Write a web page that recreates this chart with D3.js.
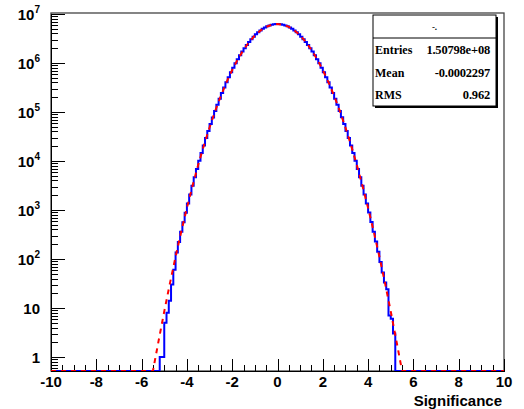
<!DOCTYPE html>
<meta charset="utf-8">
<style type="text/css">
	body { margin: 0; background: #fff; }
	svg { display: block; }
	.tick-label { font-family: "Liberation Sans", Arial, sans-serif; font-weight: bold; font-size: 15px; fill: #000; }
	.stats text { font-family: "Liberation Serif", "Times New Roman", serif; font-weight: bold; fill: #000; }
	.hist { fill: none; stroke: #0000ff; stroke-width: 2; stroke-linejoin: miter; }
	.fit { fill: none; stroke: #ff0000; stroke-width: 2; stroke-dasharray: 5,5; }
	.axis path, .axis line { stroke: #000; shape-rendering: crispEdges; }
</style>
<svg width="524" height="409"></svg>
<script src="https://d3js.org/d3.v7.min.js"></script>
<script type="text/javascript">
	// histogram, 0.1 wide bins, only the non empty range -5.2 .. 5.2
	var binLo = -5.2, binWidth = 0.1;
	var counts = [
		1, 1, 5, 8, 14, 30, 60, 135, 222, 358, 565, 880,
		1360, 2075, 3130, 4670, 6895, 10070, 14540, 20770, 29360, 41050,
		56760, 77670, 105000, 140700, 186300, 244100, 316400, 405700, 514600, 645600,
		801300, 984100, 1195000, 1436000, 1707000, 2008000, 2335000, 2688000, 3059000, 3446000,
		3840000, 4231000, 4613000, 4976000, 5310000, 5604000, 5852000, 6045000, 6177000, 6244000,
		6245000, 6178000, 6046000, 5853000, 5605000, 5311000, 4977000, 4614000, 4232000, 3841000,
		3447000, 3060000, 2689000, 2336000, 2009000, 1708000, 1437000, 1196000, 984200, 801400,
		645700, 514700, 405800, 316500, 244200, 186400, 140800, 105100, 77680, 56770,
		41060, 29370, 20780, 14550, 10080, 6903, 4678, 3136, 2081, 1365,
		886, 569, 361, 227, 141, 87, 53, 33, 24, 7, 6, 3
	];

	var fitX = [-10, -5.75, -5.5, -5.25, -5, -4.75, -4.5, -4.25, -4, -3.75, -3.5, -3.25, -3, -2.75, -2.5, -2.25, -2, -1.75, -1.5, -1.25, -1, -0.75, -0.5, -0.25,
		0, 0.25, 0.5, 0.75, 1, 1.25, 1.5, 1.75, 2, 2.25, 2.5, 2.75, 3, 3.25, 3.5, 3.75, 4, 4.25, 4.5, 4.75, 5, 5.25, 5.5, 5.75, 10];
	var fitY = [0, 0.109, 0.499, 2.13, 8.51, 31.8, 110.8, 361, 1101, 3136, 8351, 20780, 48340, 105110, 213600, 405800, 720300, 1195500, 1854000, 2689000, 3642000, 4614000, 5464000, 6046000,
		6254000, 6046000, 5464000, 4614000, 3642000, 2689000, 1854000, 1195500, 720300, 405800, 213600, 105110, 48340, 20780, 8351, 3136, 1101, 361, 110.8, 31.8, 8.51, 2.13, 0.499, 0.109, 0];

	var xMajor = [-10, -8, -6, -4, -2, 0, 2, 4, 6, 8, 10];
	var xLabels = ["-10", "-8", "-6", "-4", "-2", "0", "2", "4", "6", "8", "10"];
	var yMajor = [1, 10, 100, 1000, 10000, 100000, 1000000, 10000000];
	var yLabelBase = ["1", "10", "10", "10", "10", "10", "10", "10"];
	var yLabelExp = ["", "", "2", "3", "4", "5", "6", "7"];

	var statsTitle = "-.";
	var statsLabels = ["Entries", "Mean", "RMS"];
	var statsValues = ["1.50798e+08", "-0.0002297", "0.962"];
	var xTitle = "Significance";

	var svg = d3.select("svg");
	var padL = 51, padR = 504, padT = 13, padB = 371;
	var yMin = 0.518, yMax = 1.048e7;

	var x = d3.scaleLinear().domain([-10, 10]).range([padL, padR]);
	var y = d3.scaleLog().domain([yMin, yMax]).range([padB, padT]);

	function yc(v) { return y(Math.max(v, yMin)); }

	svg.append("clipPath").attr("id", "clip").append("rect")
		.attr("x", padL).attr("y", padT - 2).attr("width", padR - padL).attr("height", padB - padT + 2);

	// frame
	svg.append("rect").attr("x", padL).attr("y", padT).attr("width", padR - padL).attr("height", padB - padT)
		.attr("fill", "none").attr("stroke", "#444").attr("stroke-width", 1.3);

	// x axis: minor every 0.5, major every 2
	var xMinor = d3.range(-10, 10.01, 0.5).filter(function(v){ return xMajor.indexOf(v) < 0; });
	svg.append("g").attr("class", "axis").attr("transform", "translate(0," + padB + ")")
		.call(d3.axisBottom(x).tickValues(xMinor).tickSize(-6).tickFormat("").tickSizeOuter(0));
	var gx = svg.append("g").attr("class", "axis").attr("transform", "translate(0," + padB + ")")
		.call(d3.axisBottom(x).tickValues(xMajor).tickSize(-12).tickFormat("").tickSizeOuter(0));
	gx.select(".domain").attr("stroke-width", 1.3);

	xMajor.forEach(function(v, i){
		svg.append("text").attr("class", "tick-label")
			.attr("x", x(v)).attr("y", 387).attr("text-anchor", "middle").text(xLabels[i]);
	});
	svg.append("text").attr("class", "tick-label")
		.attr("x", 502).attr("y", 406).attr("text-anchor", "end").text(xTitle);

	// y axis: log, minor at 2..9 of each decade
	var yMinor = [];
	[0.1, 1, 10, 100, 1000, 10000, 100000, 1000000].forEach(function(d){
		for (var k = 2; k <= 9; k++) {
			var v = d * k;
			if (v >= yMin && v <= yMax) yMinor.push(v);
		}
	});
	svg.append("g").attr("class", "axis").attr("transform", "translate(" + padL + ",0)")
		.call(d3.axisLeft(y).tickValues(yMinor).tickSize(-7).tickFormat("").tickSizeOuter(0));
	var gy = svg.append("g").attr("class", "axis").attr("transform", "translate(" + padL + ",0)")
		.call(d3.axisLeft(y).tickValues(yMajor).tickSize(-14).tickFormat("").tickSizeOuter(0));
	gy.select(".domain").attr("stroke-width", 1.3);

	yMajor.forEach(function(v, i){
		var t = svg.append("text").attr("class", "tick-label")
			.attr("x", 40).attr("y", y(v) + 6).attr("text-anchor", "end");
		t.append("tspan").text(yLabelBase[i]);
		if (yLabelExp[i]) {
			t.append("tspan").attr("dy", -7).style("font-size", "10px").text(yLabelExp[i]);
		}
	});

	// histogram as a step line
	var pts = [[x(-10), yc(0)], [x(binLo), yc(0)]];
	counts.forEach(function(c, i){
		var x0 = binLo + i * binWidth, x1 = x0 + binWidth;
		pts.push([x(x0), yc(c)]);
		pts.push([x(x1), yc(c)]);
	});
	pts.push([x(binLo + counts.length * binWidth), yc(0)]);
	pts.push([x(10), yc(0)]);

	var line = d3.line();
	svg.append("path").attr("class", "hist").attr("clip-path", "url(#clip)").attr("d", line(pts));

	// fit curve
	var fitLine = d3.line().x(function(d){ return x(d[0]); }).y(function(d){ return yc(d[1]); });
	svg.append("path").attr("class", "fit").attr("clip-path", "url(#clip)")
		.attr("d", fitLine(fitX.map(function(v, i){ return [v, fitY[i]]; })));

	// stats box
	var sb = svg.append("g").attr("class", "stats");
	var bx = 373, by = 15, bw = 123, bh = 91;
	sb.append("rect").attr("x", bx + 2).attr("y", by + 2).attr("width", bw).attr("height", bh).attr("fill", "#000");
	sb.append("rect").attr("x", bx).attr("y", by).attr("width", bw).attr("height", bh)
		.attr("fill", "#fff").attr("stroke", "#000").attr("stroke-width", 1);
	sb.append("line").attr("x1", bx).attr("x2", bx + bw).attr("y1", 38).attr("y2", 38).attr("stroke", "#000");
	sb.append("text").attr("x", bx + bw / 2).attr("y", 30).attr("text-anchor", "middle")
		.style("font-size", "9px").text(statsTitle);
	statsLabels.forEach(function(l, i){
		var ty = 54 + i * 22.5;
		sb.append("text").attr("x", bx + 2).attr("y", ty).style("font-size", "12px").text(l);
		sb.append("text").attr("x", bx + bw - 6).attr("y", ty).attr("text-anchor", "end")
			.style("font-size", "12.5px").style("letter-spacing", "-0.2px").text(statsValues[i]);
	});
</script>
